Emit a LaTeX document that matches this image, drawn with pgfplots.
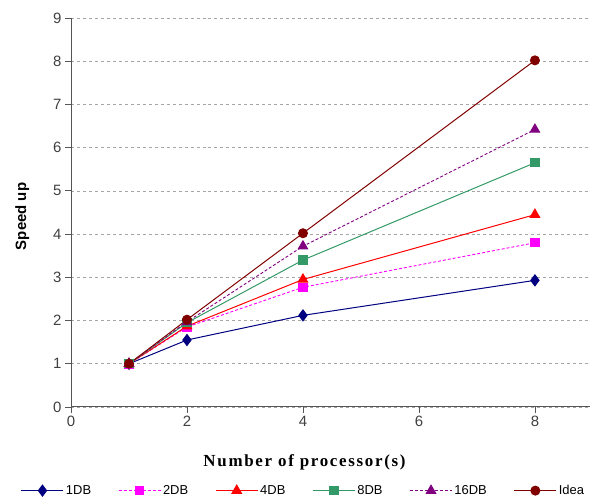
\documentclass[border=0pt]{standalone}
\usepackage{fontspec}
\setmainfont{Liberation Sans}
\newfontfamily\serifbold[LetterSpace=10]{Liberation Serif}
\usepackage{pgfplots}
\pgfplotsset{compat=1.18}
\definecolor{c1}{HTML}{000080}
\definecolor{c2}{HTML}{FF00FF}
\definecolor{c4}{HTML}{FF0000}
\definecolor{c8}{HTML}{339966}
\definecolor{c16}{HTML}{800080}
\definecolor{cid}{HTML}{800000}
\definecolor{axisgray}{HTML}{555555}
\begin{document}
\begin{tikzpicture}[x=1bp,y=1bp]
\path (0,0) rectangle (591,501);
\begin{axis}[
  at={(71bp,94bp)},anchor=south west,
  scale only axis,
  width=519bp,height=389bp,
  xmin=0,xmax=8.95,ymin=0,ymax=9,
  xtick={0,2,4,6,8},ytick={0,...,9},
  axis x line=bottom,axis y line=left,
  axis line style={draw=axisgray,line width=1pt,-},
  tick style={draw=axisgray,line width=0.8pt},
  tick align=outside,
  major tick length=6bp,
  ymajorgrids,
  grid style={draw=black!35,dashed,line width=0.6pt},
  /pgf/number format/assume math mode=true,
  tick label style={font=\fontsize{15}{17}\selectfont,text=black!75},
  xlabel={\serifbold\bfseries Number of processor(s)},
  ylabel={\bfseries Speed up},
  xlabel style={font=\fontsize{17}{19}\selectfont,at={(rel axis cs:0.45,0)},anchor=north,yshift=-44bp},
  ylabel style={font=\fontsize{15}{17}\selectfont,at={(axis description cs:-0.094,0.49)},anchor=center},
  legend columns=6,
  legend style={draw=none,fill=none,at={(0.448,-0.215)},anchor=center,
    font=\fontsize{13}{15}\selectfont,
    /tikz/every even column/.append style={column sep=25bp}},
  legend image code/.code={%
    \draw[mark repeat=2,mark phase=2] plot coordinates {(0bp,0bp) (21bp,0bp) (42bp,0bp)};},
]
\addplot[c1,line width=1pt,mark=diamond*,mark size=5.5pt,mark options={solid,fill=c1}] coordinates {(1,1) (2,1.55) (4,2.12) (8,2.93)};
\addplot[c2,line width=0.9pt,dash pattern=on 3pt off 2pt,mark=square*,mark size=4.2pt,mark options={solid,fill=c2}] coordinates {(1,1) (2,1.85) (4,2.77) (8,3.8)};
\addplot[c4,line width=1pt,mark=triangle*,mark size=5.5pt,mark options={solid,fill=c4}] coordinates {(1,1) (2,1.87) (4,2.95) (8,4.45)};
\addplot[c8,line width=1pt,mark=square*,mark size=4.2pt,mark options={solid,fill=c8}] coordinates {(1,1) (2,1.95) (4,3.4) (8,5.65)};
\addplot[c16,line width=0.9pt,dash pattern=on 3pt off 2pt,mark=triangle*,mark size=5.5pt,mark options={solid,fill=c16}] coordinates {(1,1) (2,1.97) (4,3.72) (8,6.42)};
\addplot[cid,line width=1pt,mark=*,mark size=4.5pt,mark options={solid,fill=cid}] coordinates {(1,1) (2,2.02) (4,4.02) (8,8.02)};
\legend{1DB,2DB,4DB,8DB,16DB,Idea}
\end{axis}
\end{tikzpicture}
\end{document}
